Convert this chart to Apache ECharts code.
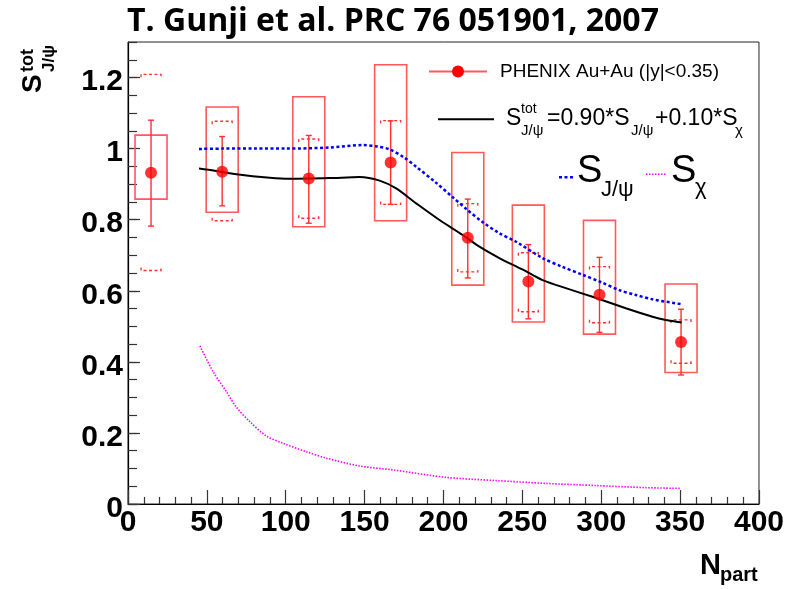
<!DOCTYPE html>
<html><head><meta charset="utf-8">
<script src="https://cdn.jsdelivr.net/npm/echarts@6/dist/echarts.min.js"></script>
<style>html,body{margin:0;padding:0;background:#fff}#c{width:787px;height:589px}</style>
</head><body><div id="c"></div>
<script>
// ---- data ----
const npart     = [14.6, 59.7, 114.6, 166.5, 215.4, 253.8, 298.9, 350.6];
const sTot      = [0.932, 0.935, 0.916, 0.961, 0.749, 0.626, 0.589, 0.456];
const statLow   = [0.782, 0.839, 0.790, 0.843, 0.636, 0.521, 0.483, 0.363];
const statHigh  = [1.080, 1.034, 1.037, 1.078, 0.858, 0.730, 0.694, 0.548];
const boxLow    = [0.858, 0.821, 0.780, 0.797, 0.616, 0.512, 0.478, 0.370];
const boxHigh   = [1.038, 1.117, 1.146, 1.236, 0.989, 0.841, 0.798, 0.619];
const dashLow   = [0.657, 0.797, 0.804, 0.843, 0.653, 0.541, 0.510, 0.396];
const dashHigh  = [1.209, 1.077, 1.027, 1.079, 0.845, 0.707, 0.668, 0.518];

const totX  = [45, 55, 68.8, 89.9, 102.5, 127.8, 146.8, 159.5, 170, 182.7, 197.5, 212.2, 222.8, 235.4, 250, 262.8, 280, 294.5, 315.6, 332.5, 341, 351];
const totY  = [0.944, 0.938, 0.928, 0.918, 0.915, 0.917, 0.920, 0.910, 0.888, 0.846, 0.799, 0.757, 0.724, 0.692, 0.660, 0.630, 0.604, 0.583, 0.551, 0.527, 0.518, 0.511];
const jpsiX = [45, 60, 80, 100, 127.8, 148.7, 158, 165.8, 175, 182.7, 195, 205.9, 215, 224.9, 235, 246, 262.8, 275, 288.2, 300, 311.4, 322, 332.5, 351];
const jpsiY = [0.999, 1.0, 1.0, 1.0, 1.003, 1.010, 1.006, 0.998, 0.975, 0.949, 0.905, 0.863, 0.828, 0.793, 0.763, 0.738, 0.692, 0.668, 0.645, 0.624, 0.602, 0.588, 0.576, 0.562];
const chiX  = [45.6, 54, 62.4, 68.8, 77.2, 87.8, 98.3, 113.1, 125.8, 146.8, 167.9, 201.7, 233.3, 265, 296.6, 328.3, 350.4];
const chiY  = [0.445, 0.372, 0.316, 0.272, 0.232, 0.191, 0.171, 0.147, 0.129, 0.107, 0.096, 0.075, 0.066, 0.058, 0.052, 0.046, 0.044];

const xTicks = {min: 0, max: 400, interval: 50};
const yTicks = {min: 0, max: 1.3, interval: 0.2, minor: 0.05};

const zip = (a, b) => a.map((v, i) => [v, b[i]]);
const errData = npart.map((x, i) => [x, sTot[i], statLow[i], statHigh[i], boxLow[i], boxHigh[i], dashLow[i], dashHigh[i]]);

const RED = '#ff0000', BOX = '#ff5a5a';
function renderErr(params, api) {
  const x = api.value(0);
  const p = y => api.coord([x, y]);
  const c = p(api.value(1));
  const px = c[0];
  const bTop = p(api.value(5))[1], bBot = p(api.value(4))[1];
  const eTop = p(api.value(3))[1], eBot = p(api.value(2))[1];
  const dTop = p(api.value(7))[1], dBot = p(api.value(6))[1];
  const bw = 16, dw = 10, cw = 3, dt = 3;
  return {type: 'group', children: [
    {type: 'rect', shape: {x: px - bw, y: bTop, width: 2 * bw, height: bBot - bTop},
     style: {fill: 'none', stroke: BOX, lineWidth: 1.6}},
    {type: 'line', shape: {x1: px, y1: eTop, x2: px, y2: eBot}, style: {stroke: '#ff3030', lineWidth: 1.4}},
    {type: 'line', shape: {x1: px - cw, y1: eTop, x2: px + cw, y2: eTop}, style: {stroke: '#ff3030', lineWidth: 1.4}},
    {type: 'line', shape: {x1: px - cw, y1: eBot, x2: px + cw, y2: eBot}, style: {stroke: '#ff3030', lineWidth: 1.4}},
    {type: 'polyline', shape: {points: [[px - dw, dTop + dt], [px - dw, dTop], [px + dw, dTop], [px + dw, dTop + dt]]},
     style: {fill: 'none', stroke: '#ff3030', lineWidth: 1.3, lineDash: [3, 2.5]}},
    {type: 'polyline', shape: {points: [[px - dw, dBot - dt], [px - dw, dBot], [px + dw, dBot], [px + dw, dBot - dt]]},
     style: {fill: 'none', stroke: '#ff3030', lineWidth: 1.3, lineDash: [3, 2.5]}}
  ]};
}

const AX = 'Liberation Sans, Arial, sans-serif';
const txt = (x, y, s, fs, extra) => Object.assign({type: 'text', x: x, y: y,
  style: {text: s, font: (extra && extra.bold ? 'bold ' : '') + fs + 'px ' + AX,
    fill: '#000', textAlign: 'left', textVerticalAlign: 'middle', verticalAlign: 'middle'}},
  extra && extra.rot ? {rotation: Math.PI / 2} : {});

const graphics = [
  // legend entry 1
  {type: 'line', shape: {x1: 429, y1: 71.5, x2: 487, y2: 71.5}, style: {stroke: BOX, lineWidth: 2}},
  {type: 'circle', shape: {cx: 458, cy: 71.5, r: 6}, style: {fill: RED}},
  txt(500, 72, 'PHENIX Au+Au (|y|<0.35)', 19),
  // legend entry 2
  {type: 'line', shape: {x1: 438, y1: 119.3, x2: 494, y2: 119.3}, style: {stroke: '#000', lineWidth: 2}},
  txt(506, 119, 'S', 23),
  txt(521, 109.5, 'tot', 14),
  txt(521, 130.5, 'J/\u03c8', 15),
  txt(547, 119, '=0.90*S', 23),
  txt(631, 130.5, 'J/\u03c8', 15),
  txt(655, 119, '+0.10*S', 23),
  txt(735, 130.5, '\u03c7', 15),
  // legend entry 3
  {type: 'line', shape: {x1: 559, y1: 177.3, x2: 575, y2: 177.3}, style: {stroke: '#0000ff', lineWidth: 2.5, lineDash: [3, 2.5]}},
  txt(577, 172, 'S', 38),
  txt(601, 190, 'J/\u03c8', 22),
  {type: 'line', shape: {x1: 646, y1: 174.3, x2: 666, y2: 174.3}, style: {stroke: '#ff00ff', lineWidth: 1.5, lineDash: [1.5, 1.5]}},
  txt(671, 172, 'S', 38),
  txt(695, 188, '\u03c7', 22),
  // x axis title
  txt(700, 565.5, 'N', 29, {bold: true}),
  txt(720, 575.5, 'part', 20, {bold: true}),
  // y axis title (rotated)
  txt(33, 93, 'S', 28, {bold: true, rot: true}),
  txt(28.5, 72, 'tot', 18, {bold: true, rot: true}),
  txt(49.5, 72, 'J/\u03c8', 17, {bold: true, rot: true})
];

const chart = echarts.init(document.getElementById('c'), null, {renderer: 'canvas'});
chart.setOption({
  animation: false,
  backgroundColor: '#fff',
  title: {text: 'T. Gunji et al. PRC 76 051901, 2007', left: 122, top: 1,
    textStyle: {fontFamily: 'Open Sans', fontWeight: 'bold', fontSize: 32, color: '#000'}},
  grid: {left: 128, right: 27, top: 42, bottom: 85, show: true, borderColor: '#222', borderWidth: 1, backgroundColor: 'transparent'},
  xAxis: {type: 'value', min: xTicks.min, max: xTicks.max, interval: xTicks.interval,
    axisLine: {lineStyle: {color: '#000', width: 1.2}},
    axisTick: {inside: true, length: 14, lineStyle: {color: '#333', width: 1.2}},
    minorTick: {show: true, splitNumber: 5, length: 7, lineStyle: {color: '#333', width: 1.2}},
    splitLine: {show: false},
    axisLabel: {fontFamily: AX, fontWeight: 'bold', fontSize: 30, color: '#000', margin: 4}},
  yAxis: [
    {type: 'value', min: yTicks.min, max: yTicks.max, interval: yTicks.interval,
     axisLine: {show: true, lineStyle: {color: '#000', width: 1.2}},
     axisTick: {inside: true, length: 12, lineStyle: {color: '#333', width: 1.2}},
     splitLine: {show: false},
     axisLabel: {color: '#000', margin: 5, showMaxLabel: false,
       formatter: v => '{a|' + String(Math.round(v * 10) / 10) + '}',
       rich: {a: {fontFamily: AX, fontWeight: 'bold', fontSize: 30, color: '#000', padding: [9, 0, 0, 0]}}}},
    {type: 'value', position: 'left', min: yTicks.min, max: yTicks.max, interval: yTicks.minor,
     axisLine: {show: false}, axisLabel: {show: false}, splitLine: {show: false},
     axisTick: {show: true, inside: true, length: 9, lineStyle: {color: '#333', width: 1.2}}}
  ],
  series: [
    {type: 'custom', name: 'syst', renderItem: renderErr, data: errData, encode: {x: 0, y: 1}, z: 2},
    {type: 'line', name: 'S_chi', data: zip(chiX, chiY), symbol: 'none', smooth: 0.3,
     lineStyle: {color: '#ff00ff', width: 1.6, type: [1.5, 1.5]}, z: 3},
    {type: 'line', name: 'S_J/psi', data: zip(jpsiX, jpsiY), symbol: 'none', smooth: 0.3,
     lineStyle: {color: '#0000ff', width: 2.5, type: [3, 2.5]}, z: 3},
    {type: 'line', name: 'S_tot', data: zip(totX, totY), symbol: 'none', smooth: 0.3,
     lineStyle: {color: '#000', width: 2}, z: 4},
    {type: 'scatter', name: 'PHENIX Au+Au (|y|<0.35)', data: zip(npart, sTot), symbol: 'circle', symbolSize: 12,
     itemStyle: {color: RED}, z: 5}
  ],
  graphic: {elements: graphics}
});
</script></body></html>
